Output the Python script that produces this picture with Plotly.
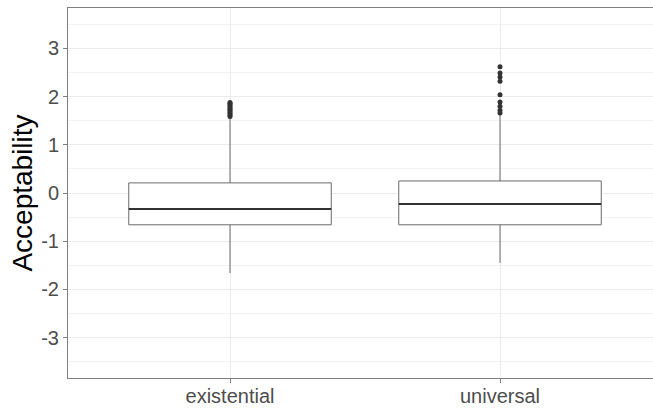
import plotly.graph_objects as go

categories = ["existential", "universal"]
q1 = [-0.66, -0.66]
median = [-0.33, -0.23]
q3 = [0.21, 0.25]
lower_whisker = [-1.66, -1.45]
upper_whisker = [1.56, 1.62]
outliers_existential = [1.59, 1.62, 1.65, 1.68, 1.71, 1.74, 1.77, 1.80, 1.83, 1.86, 1.88]
outliers_universal = [1.66, 1.72, 1.80, 1.89, 2.04, 2.32, 2.41, 2.49, 2.62]
y_ticks = [-3, -2, -1, 0, 1, 2, 3]
box_width = 0.75

fig = go.Figure()
fig.add_trace(go.Box(
    x=categories, q1=q1, median=median, q3=q3,
    lowerfence=lower_whisker, upperfence=upper_whisker,
    width=box_width, whiskerwidth=0,
    fillcolor="white", line=dict(color="#6a6a6a", width=1),
    boxpoints=False, showlegend=False,
))
outlier_x = [categories[0]] * len(outliers_existential) + [categories[1]] * len(outliers_universal)
outlier_y = outliers_existential + outliers_universal
fig.add_trace(go.Scatter(
    x=outlier_x, y=outlier_y, mode="markers",
    marker=dict(color="#333333", size=5, line=dict(width=0)),
    showlegend=False,
))
for i, m in enumerate(median):
    fig.add_shape(type="line", xref="x", yref="y",
                  x0=i - box_width / 2, x1=i + box_width / 2, y0=m, y1=m,
                  line=dict(color="#333333", width=2))

tick_font = dict(family="Liberation Sans, Arial, sans-serif", size=20, color="#4d4d4d")
fig.update_layout(
    width=653, height=408,
    margin=dict(l=68, r=0, t=8, b=30, autoexpand=False),
    plot_bgcolor="white", paper_bgcolor="white",
    font=dict(family="Liberation Sans, Arial, sans-serif"),
    xaxis=dict(
        type="category", categoryorder="array", categoryarray=categories,
        range=[-0.6, -0.6 + 585 / 270],
        showgrid=True, gridcolor="#ebebeb", gridwidth=1,
        showline=True, linecolor="#7f7f7f", linewidth=1, mirror=True,
        ticks="outside", ticklen=4, tickcolor="#7f7f7f",
        tickfont=tick_font, zeroline=False, automargin=False,
        ticklabelstandoff=-4,
    ),
    yaxis=dict(
        range=[-3.84, 3.84],
        tickvals=y_ticks, ticktext=[str(t) for t in y_ticks],
        showgrid=True, gridcolor="#ebebeb", gridwidth=1,
        minor=dict(dtick=0.5, tick0=0.5, showgrid=True, gridcolor="#f3f3f3", gridwidth=1),
        showline=True, linecolor="#7f7f7f", linewidth=1,
        ticks="outside", ticklen=4, tickcolor="#7f7f7f",
        tickfont=tick_font, zeroline=False, automargin=False,
        title=dict(text="Acceptability", font=dict(size=28, color="black"), standoff=0),
    ),
)
fig.write_html(
    "out.html",
    config={"displayModeBar": False},
    post_script="document.body.style.margin='0';document.body.style.overflow='hidden';",
)
